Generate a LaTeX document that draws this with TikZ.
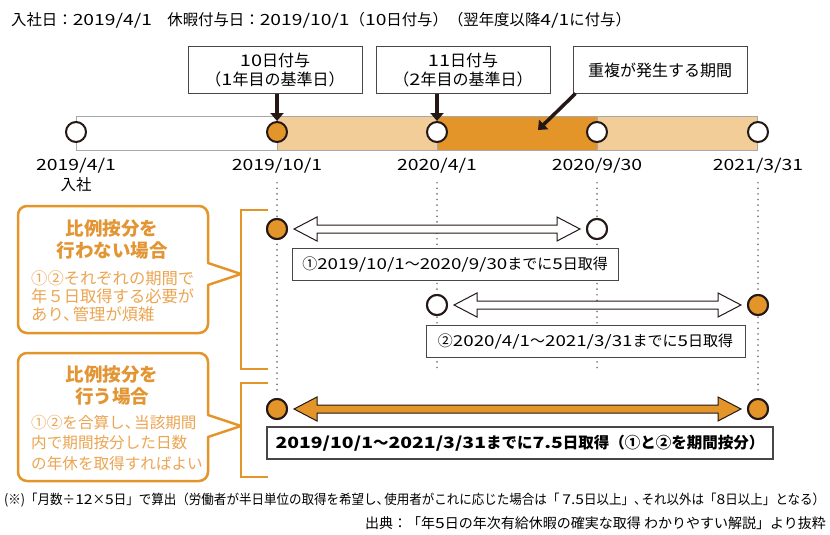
\documentclass[tikz,border=0pt]{standalone}
\usepackage{fontspec}
\usepackage{graphicx}
\setmainfont{Noto Sans CJK JP}
\newfontfamily\dg[FakeStretch=1.25]{Noto Sans CJK JP}
\newcommand\D[1]{{\dg #1}}
\usetikzlibrary{arrows.meta,calc}
\definecolor{dkor}{HTML}{E3952A}
\definecolor{ltor}{HTML}{F3CD98}
\definecolor{ttor}{HTML}{E29532}
\definecolor{bdor}{HTML}{ECA552}
\definecolor{ink}{HTML}{231815}
\definecolor{boxgray}{HTML}{4A4546}
\definecolor{bargray}{HTML}{A8A8A8}
\definecolor{dotgray}{HTML}{7A7A7A}
\newcommand\fs[2]{\fontsize{#1}{#2}\selectfont}
\newcommand\tc{、\kern-0.4em}
\tikzset{
 tcirc/.style={circle, draw=ink, line width=2pt, minimum size=20pt, inner sep=0pt, fill=white},
 ocirc/.style={tcirc, fill=dkor},
 topbox/.style={draw=boxgray, line width=1pt, fill=white, minimum width=174pt, minimum height=46pt, align=center, font=\fs{16}{19.5}, inner sep=0pt},
 rowbox/.style={draw=boxgray, line width=1pt, fill=white, minimum height=32pt, inner sep=0pt, font=\fs{15}{18}},
 datelab/.style={font=\dg\fs{15.5}{19}, inner sep=0pt},
 guide/.style={dotgray, line width=1.9pt, line cap=round, dash pattern=on 0pt off 5.6pt},
 bigarrow/.style={ink, line width=3.5pt, -{Triangle[length=8pt,width=13pt]}},
 bracket/.style={dkor, line width=2pt},
 callout/.style={draw=dkor, line width=2.5pt, fill=white, line join=round},
 ctitle/.style={text=ttor, font=\bfseries\fs{18.5}{22}, align=center, inner sep=0pt},
 cbody/.style={text=bdor, align=left, inner sep=0pt, anchor=west},
 dblarr/.style={draw=ink, line width=1pt, line join=miter},
}
\newcommand\DblArr[3]{%
 \path[dblarr, fill=#3] ($(#1.east)+(6,0)$) -- ++(23,-12) -- ++(0,8) -- ($(#2.west)+(-29,-4)$) -- ++(0,-8) -- ($(#2.west)+(-6,0)$) -- ++(-23,12) -- ++(0,-8) -- ($(#1.east)+(29,4)$) -- ++(0,8) -- cycle;}
\begin{document}
\begin{tikzpicture}[x=1pt,y=-1pt]
\useasboundingbox[fill=white] (0,0) rectangle (830,535);

% header
\node[anchor=west, inner sep=0pt, font=\fs{15.4}{18}] (hdr) at (11,20) {入社日：\D{2019/4/1}　休暇付与日：\D{2019/10/1}（\D{10}日付与）（翌年度以降\D{4/1}に付与）};

% bar
\fill[white] (76,116) rectangle (277,150);
\fill[ltor] (277,116) rectangle (437,150);
\fill[dkor] (437,116) rectangle (597,150);
\fill[ltor] (597,116) rectangle (757,150);
\draw[bargray, line width=1pt] (76,116) rectangle (757,150);
\draw[bargray, line width=0.8pt] (277,116) -- (277,150) (437,116) -- (437,150) (597,116) -- (597,150);

% timeline circles
\node[tcirc] (c1) at (76,132) {};
\node[ocirc] (c2) at (277,132) {};
\node[tcirc] (c3) at (437,132) {};
\node[tcirc] (c4) at (597,132) {};
\node[tcirc] (c5) at (758,132) {};

% date labels
\node[datelab] (d1) at (76,166) {2019/4/1};
\node[datelab, font=\fs{15.5}{19}] (d1b) at (76,185) {入社};
\node[datelab] (d2) at (277,166) {2019/10/1};
\node[datelab] (d3) at (437,166) {2020/4/1};
\node[datelab] (d4) at (597,166) {2020/9/30};
\node[datelab] (d5) at (758,166) {2021/3/31};

% top boxes
\node[topbox] (b1) at (275,70) {\D{10}日付与\\（\D{1}年目の基準日）};
\node[topbox] (b2) at (463,70) {\D{11}日付与\\（\D{2}年目の基準日）};
\node[topbox] (b3) at (660,70) {重複が発生する期間};
\draw[bigarrow] (b1.south -| c2) -- (c2.north);
\draw[bigarrow] (b2.south -| c3) -- (c3.north);
\coordinate (ov) at (538,130);
\draw[bigarrow] ($(b3.south west)+(3,0)$) -- (ov);

% guides
\coordinate (g3) at (437,372);
\coordinate (g4) at (597,372);
\node[ocirc] (r1a) at (277,229) {};
\node[tcirc] (r1b) at (597,229) {};
\node[tcirc] (r2a) at (437,305) {};
\node[ocirc] (r2b) at (758,305) {};
\node[ocirc] (r3a) at (277,409) {};
\node[ocirc] (r3b) at (758,409) {};
\draw[guide] (d2.south) ++(0,9) -- ($(r3a.north)+(0,-3)$);
\draw[guide] (d3.south) ++(0,9) -- (g3);
\draw[guide] (d4.south) ++(0,9) -- (g4);
\draw[guide] (d5.south) ++(0,9) -- ($(r3b.north)+(0,-3)$);

% rows
\node[rowbox, minimum width=326pt] (t1) at (455,264) {①\D{2019/10/1}～\D{2020/9/30}までに\D{5}日取得};
\node[rowbox, minimum width=319pt] (t2) at (585.5,341) {②\D{2020/4/1}～\D{2021/3/31}までに\D{5}日取得};
\node[rowbox, minimum width=506pt, line width=1.3pt, font=\bfseries\fs{15.5}{18}] (t3) at (520,443) {\D{2019/10/1}～\D{2021/3/31}までに\D{7.5}日取得（①と②を期間按分）};
\DblArr{r1a}{r1b}{white}
\DblArr{r2a}{r2b}{white}
\DblArr{r3a}{r3b}{dkor}
\node[ocirc] at (r1a) {};
\node[tcirc] at (r1b) {};
\node[tcirc] at (r2a) {};
\node[ocirc] at (r2b) {};
\node[ocirc] at (r3a) {};
\node[ocirc] at (r3b) {};

% brackets
\draw[bracket] (268,210) -- (241,210) -- (241,369) -- (268,369);
\draw[bracket] (268,383) -- (241,383) -- (241,477) -- (268,477);

% callout 1
\draw[callout] (241,274) -- (208,263) [rounded corners=9pt] -- (208,206) -- (18,206) -- (18,333) -- (208,333) [sharp corners] -- (208,285) -- cycle;
\node[ctitle] (h1) at (112,240) {比例按分を\\行わない場合};
\node[cbody, font=\fs{16.3}{18}] (p1) at (31,296) {①②それぞれの期間で\\年５日取得する必要が\\あり\tc 管理が煩雑};

% callout 2
\draw[callout] (241,426) -- (208,415) [rounded corners=9pt] -- (208,353) -- (18,353) -- (18,481) -- (208,481) [sharp corners] -- (208,437) -- cycle;
\node[ctitle] (h2) at (112,386) {比例按分を\\行う場合};
\node[cbody, font=\fs{15.6}{20.7}] (p2) at (31,443) {①②を合算し\tc 当該期間\\内で期間按分した日数\\の年休を取得すればよい};

% footnotes
\node[anchor=west, inner sep=0pt, font=\fs{13.5}{16}] (fn) at (4,500) {\resizebox{821pt}{\height}{(※)「月数÷\D{12}×\D{5}日」で算出（労働者が半日単位の取得を希望し\tc 使用者がこれに応じた場合は「 \D{7.5}日以上」\tc それ以外は「\D{8}日以上」となる）}};
\node[anchor=east, inner sep=0pt, font=\fs{14}{16}] (src) at (826,523) {出典：「年\D{5}日の年次有給休暇の確実な取得 わかりやすい解説」より抜粋};
\end{tikzpicture}
\end{document}
